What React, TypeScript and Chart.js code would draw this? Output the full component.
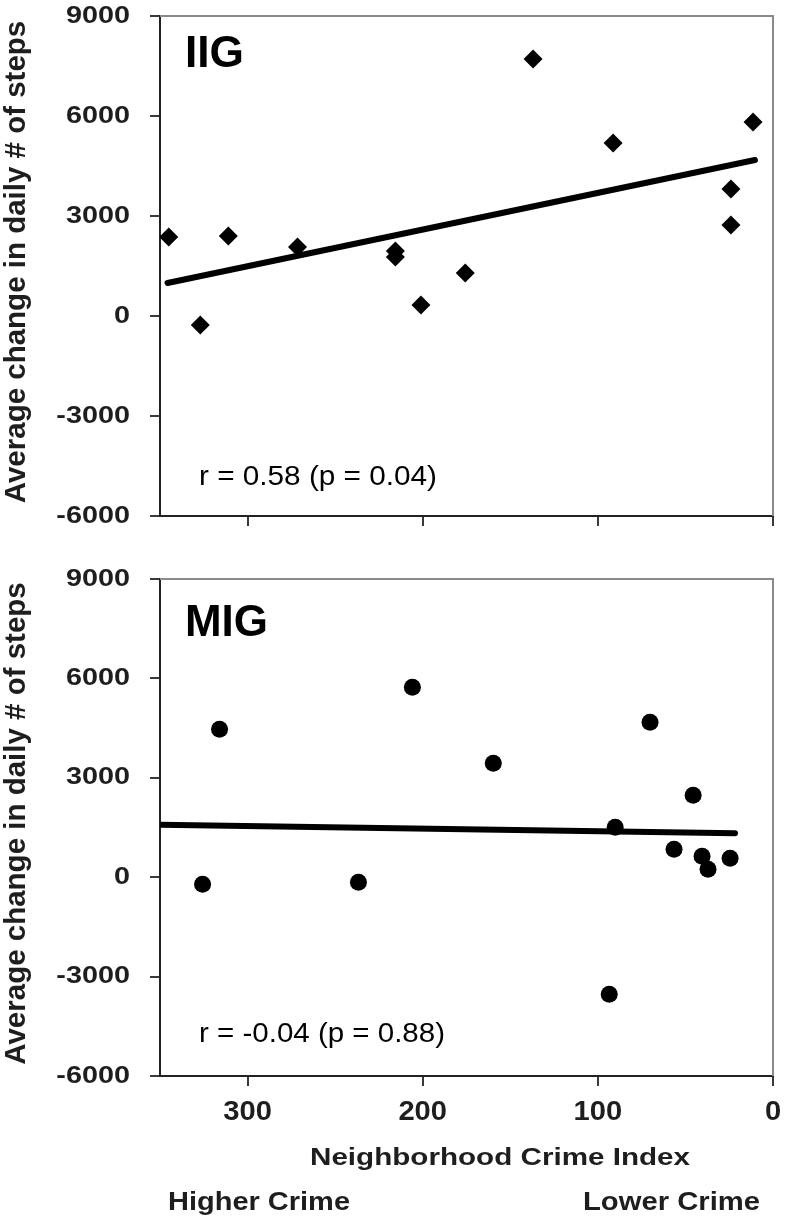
import React, { useEffect, useRef } from 'react';
import { Chart, registerables } from 'chart.js';

Chart.register(...registerables);

// ---------- data ----------
const iigCrime = [345, 327, 311, 271.5, 215.6, 215.6, 201, 175.7, 137, 91.3, 24, 24, 11.4];
const iigSteps = [2370, -270, 2400, 2070, 1950, 1770, 330, 1290, 7710, 5190, 3810, 2730, 5820];
const iigFitCrime = [345.7, 10.3];
const iigFitSteps = [990, 4680];

const migCrime = [325.7, 316, 236.7, 205.9, 159.7, 93.5, 90.1, 70.2, 45.6, 56.5, 40.5, 37.1, 24.5];
const migSteps = [-211, 4467, -151, 5734, 3441, -3531, 1509, 4678, 2475, 845, 634, 241, 573];
const migFitCrime = [350, 21.7];
const migFitSteps = [1585, 1328];

const xTicks = [0, 100, 200, 300];
const yTicks = [-6000, -3000, 0, 3000, 6000, 9000];
const xAxisMax = 350;

const FONT = '"Liberation Sans", Arial, Helvetica, sans-serif';
const TEXT_COLOR = '#1e1e1e';

type TextOpts = {
  size: number;
  bold?: boolean;
  align?: CanvasTextAlign;
  baseline?: CanvasTextBaseline;
  stretch?: number;
  width?: number;
  rotate?: number;
  color?: string;
};

function drawText(ctx: CanvasRenderingContext2D, text: string, x: number, y: number, o: TextOpts) {
  ctx.save();
  ctx.font = `${o.bold ? 'bold ' : ''}${o.size}px ${FONT}`;
  ctx.fillStyle = o.color || TEXT_COLOR;
  ctx.textBaseline = o.baseline || 'alphabetic';
  ctx.textAlign = o.align || 'left';
  let sx = o.stretch || 1;
  if (o.width) {
    const w = ctx.measureText(text).width;
    if (w > 0) sx = o.width / w;
  }
  ctx.translate(x, y);
  ctx.scale(sx, 1);
  if (o.rotate) ctx.rotate(o.rotate);
  ctx.fillText(text, 0, 0);
  ctx.restore();
}

type PanelCfg = {
  top: number;
  height: number;
  padTop: number;
  xAxisH: number;
  label: string;
  labelW: number;
  labelDy: number;
  rText: string;
  rW: number;
  rDy: number;
  crime: number[];
  steps: number[];
  fitX: number[];
  fitY: number[];
  style: 'rectRot' | 'circle';
  radius: number;
  showX: boolean;
};

function Panel(cfg: PanelCfg) {
  const ref = useRef<HTMLCanvasElement>(null);

  useEffect(() => {
    const textPlugin = {
      id: 'panelTexts',
      afterDraw(chart: any) {
        const ctx: CanvasRenderingContext2D = chart.ctx;
        const a = chart.chartArea;
        const ys = chart.scales.y;
        const xs = chart.scales.x;

        // top & right frame
        ctx.save();
        ctx.strokeStyle = '#8a8a8a';
        ctx.lineWidth = 2;
        ctx.beginPath();
        ctx.moveTo(a.left, a.top);
        ctx.lineTo(a.right, a.top);
        ctx.lineTo(a.right, a.bottom);
        ctx.stroke();
        ctx.restore();

        // y tick labels
        ys.ticks.forEach((t: any, i: number) => {
          drawText(ctx, String(t.value), a.left - 30, ys.getPixelForTick(i), {
            size: 24, bold: true, align: 'right', baseline: 'middle', stretch: 1.2,
          });
        });

        // y axis title
        drawText(ctx, 'Average change in daily # of steps', 25, (a.top + a.bottom) / 2 - 4, {
          size: 29.5, bold: true, align: 'center', baseline: 'alphabetic', rotate: -Math.PI / 2,
        });

        // panel label
        drawText(ctx, cfg.label, a.left + 25, a.top + cfg.labelDy, { size: 44, bold: true, width: cfg.labelW, color: '#000' });

        // correlation text
        drawText(ctx, cfg.rText, a.left + 39, a.bottom - cfg.rDy, { size: 28, width: cfg.rW, color: '#000' });

        if (cfg.showX) {
          xs.ticks.forEach((t: any, i: number) => {
            drawText(ctx, String(t.value), xs.getPixelForTick(i), a.bottom + 44, {
              size: 27, bold: true, align: 'center', stretch: 1.08,
            });
          });
          drawText(ctx, 'Neighborhood Crime Index', 310, a.bottom + 89, { size: 24.7, bold: true, width: 380 });
          drawText(ctx, 'Higher Crime', 168, a.bottom + 134, { size: 25, bold: true, width: 182 });
          drawText(ctx, 'Lower Crime', 583, a.bottom + 134, { size: 25, bold: true, width: 177 });
        }
      },
    };

    const gridOpts = {
      drawOnChartArea: false,
      drawTicks: true,
      tickLength: 10,
      color: '#3a3a3a',
      lineWidth: 2,
    };
    const borderOpts = { display: true, color: '#222', width: 2 };

    const chart = new Chart(ref.current as HTMLCanvasElement, {
      type: 'scatter',
      data: {
        datasets: [
          {
            type: 'line',
            data: cfg.fitX.map((x, i) => ({ x, y: cfg.fitY[i] })),
            borderColor: '#000',
            backgroundColor: '#000',
            borderWidth: 6,
            borderCapStyle: 'round',
            pointRadius: 0,
            fill: false,
            order: 2,
          } as any,
          {
            type: 'scatter',
            data: cfg.crime.map((x, i) => ({ x, y: cfg.steps[i] })),
            pointStyle: cfg.style,
            pointRadius: cfg.radius,
            pointHoverRadius: cfg.radius,
            backgroundColor: '#000',
            borderColor: '#000',
            borderWidth: 0,
            order: 1,
          } as any,
        ],
      },
      options: {
        animation: false,
        responsive: false,
        devicePixelRatio: 1,
        events: [],
        layout: { padding: { top: cfg.padTop, right: 13, left: 0, bottom: 0 } },
        plugins: { legend: { display: false }, tooltip: { enabled: false } },
        scales: {
          x: {
            type: 'linear',
            reverse: true,
            min: 0,
            max: xAxisMax,
            afterBuildTicks: (s: any) => {
              s.ticks = xTicks.map((v) => ({ value: v }));
            },
            afterFit: (s: any) => {
              s.height = cfg.xAxisH;
            },
            ticks: { display: false },
            grid: gridOpts,
            border: borderOpts,
          },
          y: {
            type: 'linear',
            min: yTicks[0],
            max: yTicks[yTicks.length - 1],
            afterBuildTicks: (s: any) => {
              s.ticks = yTicks.map((v) => ({ value: v }));
            },
            afterFit: (s: any) => {
              s.width = 160;
            },
            ticks: { display: false },
            grid: gridOpts,
            border: borderOpts,
          },
        },
      } as any,
      plugins: [textPlugin],
    });
    return () => chart.destroy();
  }, []);

  return (
    <canvas
      ref={ref}
      width={786}
      height={cfg.height}
      style={{ position: 'absolute', left: 0, top: cfg.top, width: 786, height: cfg.height, display: 'block' }}
    />
  );
}

export default function App() {
  return (
    <div style={{ position: 'absolute', left: 0, top: 0, width: 786, height: 1219, background: '#fff', overflow: 'hidden' }}>
      <Panel
        top={0}
        height={560}
        padTop={16}
        xAxisH={44}
        label="IIG"
        labelW={59}
        labelDy={51}
        rText="r = 0.58 (p = 0.04)"
        rW={238}
        rDy={31}
        crime={iigCrime}
        steps={iigSteps}
        fitX={iigFitCrime}
        fitY={iigFitSteps}
        style="rectRot"
        radius={9.5}
        showX={false}
      />
      <Panel
        top={560}
        height={659}
        padTop={19}
        xAxisH={143}
        label="MIG"
        labelW={83}
        labelDy={57}
        rText="r = -0.04 (p = 0.88)"
        rW={246}
        rDy={34}
        crime={migCrime}
        steps={migSteps}
        fitX={migFitCrime}
        fitY={migFitSteps}
        style="circle"
        radius={8.5}
        showX={true}
      />
    </div>
  );
}
